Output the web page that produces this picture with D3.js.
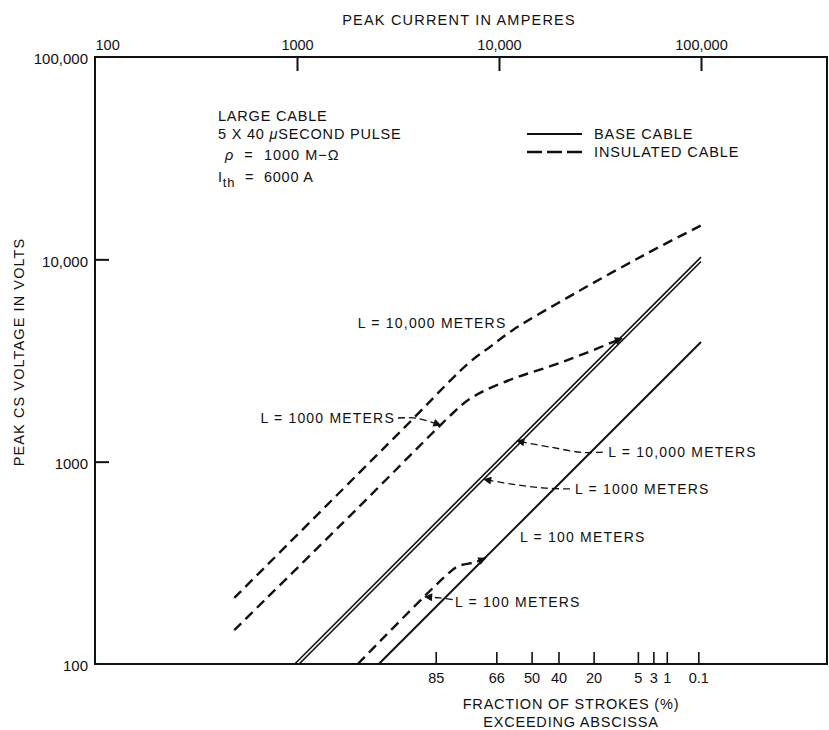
<!DOCTYPE html>
<html>
<head>
<meta charset="utf-8">
<script src="https://cdn.jsdelivr.net/npm/d3@7"></script>
<style>
  body { margin: 0; background: #fff; }
  svg text { font-family: "Liberation Sans", Arial, sans-serif; fill: #111; }
</style>
</head>
<body>
<div id="chart"></div>
<script>
// values: [peak current (A), peak CS voltage (V)]
var base10000 = [[975, 100], [100000, 10250]];
var base1000 = [[1025, 100], [100000, 9750]];
var base100 = [[2540, 100], [100000, 3900]];
var ins10000 = [[489, 212], [2000, 867], [3784, 1642], [5715, 2506], [7180, 3112], [9020, 3690], [11730, 4480], [25270, 7030], [54100, 10700], [100000, 14700]];
var ins1000 = [[489, 147], [2000, 590], [4700, 1390], [5920, 1740], [6950, 2000], [8530, 2250], [12000, 2592], [17370, 2930], [25270, 3360], [40700, 4070]];
var ins100 = [[2000, 100], [5630, 281], [6310, 305], [7660, 319], [8570, 334]];

var currentTicks = [100, 1000, 10000, 100000];
var voltageTicks = [100, 1000, 10000, 100000];
var fractionLabels = ['85', '66', '50', '40', '20', '5', '3', '1', '0.1'];
var fractionCurrents = [4860, 9700, 14500, 19700, 29400, 48700, 58100, 67700, 97000];

var width = 829, height = 730;
var plotLeft = 95, plotTop = 57, plotRight = 827, plotBottom = 664;

var svg = d3.select('#chart').append('svg')
  .attr('width', width)
  .attr('height', height);

var x = d3.scaleLog().domain([100, 100000]).range([plotLeft, 701]);
var y = d3.scaleLog().domain([100, 100000]).range([plotBottom, plotTop]);

var line = d3.line()
  .x(function (d) { return x(d[0]); })
  .y(function (d) { return y(d[1]); });
var curve = d3.line()
  .x(function (d) { return x(d[0]); })
  .y(function (d) { return y(d[1]); })
  .curve(d3.curveCatmullRom.alpha(0.5));

// arrow head marker
svg.append('defs').append('marker')
  .attr('id', 'arrow')
  .attr('viewBox', '0 0 10 10')
  .attr('refX', 9).attr('refY', 5)
  .attr('markerWidth', 10).attr('markerHeight', 8)
  .attr('markerUnits', 'userSpaceOnUse')
  .attr('orient', 'auto')
  .append('path').attr('d', 'M0,0 L10,5 L0,10 Z').attr('fill', '#111');

// frame
svg.append('rect')
  .attr('x', plotLeft).attr('y', plotTop)
  .attr('width', plotRight - plotLeft).attr('height', plotBottom - plotTop)
  .attr('fill', 'none').attr('stroke', '#111').attr('stroke-width', 2);

// top axis (current)
var gTop = svg.append('g')
  .attr('transform', 'translate(0,' + plotTop + ')')
  .call(d3.axisTop(x).tickValues(currentTicks).tickSizeInner(-14).tickSizeOuter(0).tickPadding(7)
    .tickFormat(function (d) { return d >= 10000 ? d3.format(',')(d) : d; }));
gTop.select('.domain').remove();
gTop.selectAll('.tick line').attr('stroke', '#111').attr('stroke-width', 2)
  .filter(function (d) { return d == 100; }).remove();
gTop.selectAll('.tick text').attr('font-size', 14.5).attr('fill', '#111')
  .filter(function (d) { return d == 100; }).attr('text-anchor', 'start');

// left axis (voltage)
var gLeft = svg.append('g')
  .attr('transform', 'translate(' + plotLeft + ',0)')
  .call(d3.axisLeft(y).tickValues(voltageTicks).tickSizeInner(-14).tickSizeOuter(0).tickPadding(7)
    .tickFormat(function (d) { return d >= 10000 ? d3.format(',')(d) : d; }));
gLeft.select('.domain').remove();
gLeft.selectAll('.tick line').attr('stroke', '#111').attr('stroke-width', 2)
  .filter(function (d) { return d == 100 || d == 100000; }).remove();
gLeft.selectAll('.tick text').attr('font-size', 15).attr('fill', '#111').attr('dy', '0.45em');

// bottom axis (fraction of strokes)
var gBottom = svg.append('g')
  .attr('transform', 'translate(0,' + plotBottom + ')')
  .call(d3.axisBottom(x).tickValues(fractionCurrents).tickSizeInner(-12).tickSizeOuter(0).tickPadding(9)
    .tickFormat(function (d, i) { return fractionLabels[i]; }));
gBottom.select('.domain').remove();
gBottom.selectAll('.tick line').attr('stroke', '#111').attr('stroke-width', 1.6);
gBottom.selectAll('.tick text').attr('font-size', 14.5).attr('fill', '#111');

// axis titles
svg.append('text').attr('x', 459).attr('y', 25).attr('text-anchor', 'middle')
  .attr('font-size', 14.5).attr('letter-spacing', 1.2).text('PEAK CURRENT IN AMPERES');
svg.append('text').attr('transform', 'translate(24,352) rotate(-90)').attr('text-anchor', 'middle')
  .attr('font-size', 14.5).attr('letter-spacing', 1.1).text('PEAK CS VOLTAGE IN VOLTS');
svg.append('text').attr('x', 571).attr('y', 709).attr('text-anchor', 'middle')
  .attr('font-size', 14.5).attr('letter-spacing', 0.8).text('FRACTION OF STROKES (%)');
svg.append('text').attr('x', 571).attr('y', 727).attr('text-anchor', 'middle')
  .attr('font-size', 14.5).attr('letter-spacing', 0.8).text('EXCEEDING ABSCISSA');

// base cable (solid)
[base10000, base1000].forEach(function (d) {
  svg.append('path').attr('d', line(d)).attr('fill', 'none')
    .attr('stroke', '#111').attr('stroke-width', 1.6);
});
svg.append('path').attr('d', line(base100)).attr('fill', 'none')
  .attr('stroke', '#111').attr('stroke-width', 2);

// insulated cable (dashed)
svg.append('path').attr('d', curve(ins10000)).attr('fill', 'none')
  .attr('stroke', '#111').attr('stroke-width', 2.4).attr('stroke-dasharray', '10,6');
svg.append('path').attr('d', curve(ins1000)).attr('fill', 'none')
  .attr('stroke', '#111').attr('stroke-width', 2.4).attr('stroke-dasharray', '10,6')
  .attr('marker-end', 'url(#arrow)');
svg.append('path').attr('d', curve(ins100)).attr('fill', 'none')
  .attr('stroke', '#111').attr('stroke-width', 2.4).attr('stroke-dasharray', '10,6')
  .attr('marker-end', 'url(#arrow)');

// curve labels
var labels = [
  { text: 'L = 10,000 METERS', at: [2000, 4600], anchor: 'start' },
  { text: 'L = 1000 METERS', at: [3055, 1553], anchor: 'end' },
  { text: 'L = 10,000 METERS', at: [34700, 1055], anchor: 'start' },
  { text: 'L = 1000 METERS', at: [23800, 692], anchor: 'start' },
  { text: 'L = 100 METERS', at: [12700, 401], anchor: 'start' },
  { text: 'L = 100 METERS', at: [6060, 191], anchor: 'start' }
];
labels.forEach(function (d) {
  svg.append('text').attr('x', x(d.at[0])).attr('y', y(d.at[1]))
    .attr('text-anchor', d.anchor).attr('font-size', 14).attr('letter-spacing', 1.2)
    .text(d.text);
});

// leaders with arrow heads
var leaders = [
  [[3160, 1644], [3900, 1640], [5140, 1514]],
  [[32700, 1116], [26000, 1110], [18000, 1180], [12280, 1265]],
  [[22450, 733], [17000, 740], [12000, 770], [8430, 818]],
  [[5900, 208], [5100, 212], [4300, 215]]
];
leaders.forEach(function (d) {
  svg.append('path').attr('d', curve(d)).attr('fill', 'none')
    .attr('stroke', '#111').attr('stroke-width', 1.3).attr('stroke-dasharray', '7,4')
    .attr('marker-end', 'url(#arrow)');
});

// legend
svg.append('line').attr('x1', 527).attr('x2', 582).attr('y1', 134).attr('y2', 134)
  .attr('stroke', '#111').attr('stroke-width', 2);
svg.append('line').attr('x1', 527).attr('x2', 582).attr('y1', 152).attr('y2', 152)
  .attr('stroke', '#111').attr('stroke-width', 2.4).attr('stroke-dasharray', '15,5');
svg.append('text').attr('x', 594).attr('y', 139).attr('font-size', 14.5).attr('letter-spacing', 0.9).text('BASE CABLE');
svg.append('text').attr('x', 594).attr('y', 157).attr('font-size', 14.5).attr('letter-spacing', 0.9).text('INSULATED CABLE');

// conditions block
var t1 = svg.append('text').attr('x', 218).attr('y', 121).attr('font-size', 14.5).attr('letter-spacing', 0.8);
t1.text('LARGE CABLE');
var t2 = svg.append('text').attr('x', 218).attr('y', 139).attr('font-size', 14.5).attr('letter-spacing', 0.8);
t2.append('tspan').text('5 X 40 ');
t2.append('tspan').attr('font-style', 'italic').text('\u03bc');
t2.append('tspan').text('SECOND PULSE');
var t3 = svg.append('text').attr('x', 225).attr('y', 160).attr('font-size', 14.5).attr('letter-spacing', 1)
  .style('white-space', 'pre');
t3.append('tspan').attr('font-style', 'italic').text('\u03c1');
t3.append('tspan').text('  =  1000 M\u2212\u03a9');
var t4 = svg.append('text').attr('x', 218).attr('y', 182).attr('font-size', 14.5).attr('letter-spacing', 0.8)
  .style('white-space', 'pre');
t4.append('tspan').text('I');
t4.append('tspan').attr('dy', 5).attr('font-size', 13).text('th');
t4.append('tspan').attr('dy', -5).text('  =  6000 A');
</script>
</body>
</html>
